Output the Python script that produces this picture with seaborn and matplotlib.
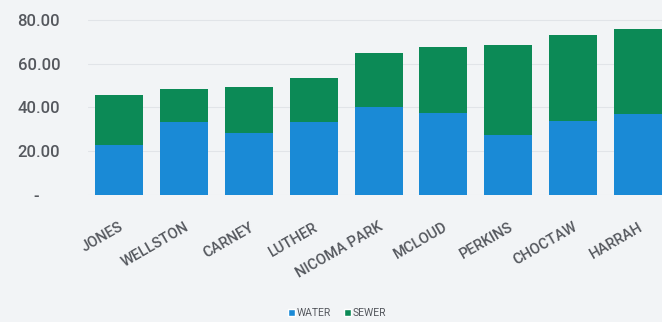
import matplotlib
matplotlib.use("Agg")
import matplotlib.pyplot as plt
import seaborn as sns
import pandas as pd
from matplotlib.patches import Patch
from matplotlib.ticker import FuncFormatter

cities = ["JONES", "WELLSTON", "CARNEY", "LUTHER", "NICOMA PARK", "MCLOUD", "PERKINS", "CHOCTAW", "HARRAH"]
water = [22.8, 33.3, 28.2, 33.5, 40.3, 37.3, 27.4, 33.9, 37.0]
sewer = [22.9, 15.1, 21.0, 20.1, 24.4, 30.4, 41.1, 39.1, 38.8]
y_ticks = [0, 20, 40, 60, 80]
series_names = ["WATER", "SEWER"]

blue = "#1a8ad6"
green = "#0c8a56"
bg = "#f2f4f6"
txt = "#55585e"

sns.set_theme(style="white")
plt.rcParams['font.family'] = ['Roboto', 'DejaVu Sans']

df = pd.DataFrame({"city": cities, "water": water, "sewer": sewer})
df["total"] = df["water"] + df["sewer"]

fig = plt.figure(figsize=(6.62, 3.22), dpi=100)
fig.patch.set_facecolor(bg)
W, H = 662, 322
ax = fig.add_axes([88 / W, (H - 195) / H, (662 - 88) / W, 195 / H])
ax.set_facecolor(bg)

sns.barplot(data=df, x="city", y="total", color=green, saturation=1, width=0.74, ax=ax,
            zorder=3, linewidth=0)
sns.barplot(data=df, x="city", y="water", color=blue, saturation=1, width=0.74, ax=ax,
            zorder=4, linewidth=0)

ax.set_ylim(0, 89)
ax.set_xlim(-0.48, 8.37)
ax.set_yticks(y_ticks)
ax.yaxis.set_major_formatter(FuncFormatter(lambda v, p: "-     " if v == 0 else f"{v:.2f}"))
ax.grid(axis="y", color="#e1e4e8", linewidth=0.8, zorder=0)
ax.set_axisbelow(True)
for s in ax.spines.values():
    s.set_visible(False)
ax.set_xlabel("")
ax.set_ylabel("")
ax.tick_params(axis="y", length=0, pad=20, labelsize=12, labelcolor=txt)
ax.tick_params(axis="x", length=0, pad=18, labelsize=10.5, labelcolor=txt)
for lab in ax.get_yticklabels():
    lab.set_fontweight("medium")
for lab in ax.get_xticklabels():
    lab.set_rotation(30)
    lab.set_ha("right")
    lab.set_va("top")
    lab.set_rotation_mode("anchor")
    lab.set_fontweight("medium")

handles = [Patch(facecolor=blue, label=series_names[0]), Patch(facecolor=green, label=series_names[1])]
fig.legend(handles=handles, loc="center", bbox_to_anchor=(337 / W, (H - 313) / H), ncol=2,
           frameon=False, fontsize=7.5, handlelength=0.7, handleheight=0.7, handletextpad=0.2,
           columnspacing=1.2, labelcolor=txt)

fig.savefig("out.png", dpi=100, facecolor=bg)
